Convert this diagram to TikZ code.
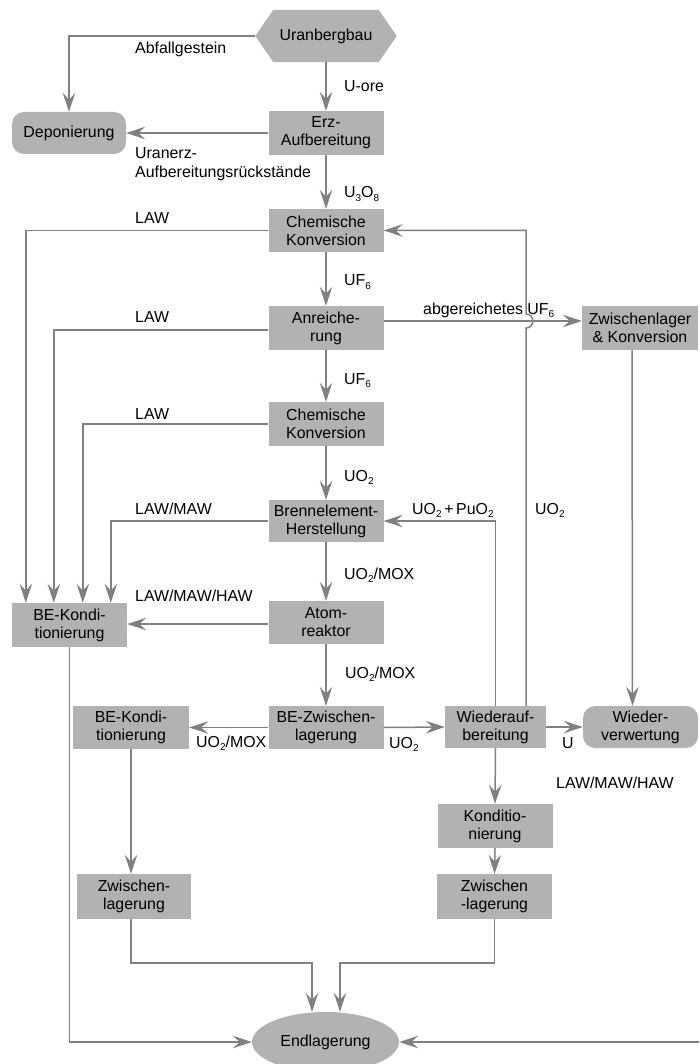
\documentclass[tikz,border=0pt]{standalone}
\usepackage{fontspec}
\setmainfont{Liberation Sans}
\usetikzlibrary{arrows.meta,shapes.geometric,backgrounds}
\definecolor{boxgray}{RGB}{178,178,178}
\definecolor{linegray}{RGB}{128,128,128}
\newcommand{\lowsub}[1]{\raisebox{-0.4ex}{\fontsize{10}{10}\selectfont #1}}
\begin{document}
\begin{tikzpicture}[x=1pt,y=-1pt,
  every node/.style={font=\fontsize{15.9}{18}\selectfont, inner sep=0pt},
  box/.style={fill=boxgray, align=center, minimum width=115pt, minimum height=44pt},
  rbox/.style={box, rounded corners=12pt},
  lbl/.style={anchor=base west},
  arr/.style={draw=linegray, line width=1.5pt, -{Stealth[length=19pt,width=12.5pt,inset=7pt]}},
  ln/.style={draw=linegray, line width=1.5pt}]
\useasboundingbox (0,0) rectangle (699,1064);

% nodes
\node[minimum width=141pt, minimum height=52pt] (ub) at (326,36) {Uranbergbau};
\begin{scope}[on background layer]
  \fill[boxgray] (ub.west) -- ([xshift=18pt]ub.north west) -- ([xshift=-18pt]ub.north east)
    -- (ub.east) -- ([xshift=-18pt]ub.south east) -- ([xshift=18pt]ub.south west) -- cycle;
\end{scope}
\node[rbox, minimum width=114pt, minimum height=42pt] (dep) at (69,133) {Deponierung};
\node[box] (erz) at (326,133) {Erz-\\Aufbereitung};
\node[box, minimum height=43pt] (ck1) at (326,230.5) {Chemische\\Konversion};
\node[box] (anr) at (326,328) {Anreiche-\\rung};
\node[box] (ck2) at (326,424) {Chemische\\Konversion};
\node[box, minimum height=42pt] (beh) at (326,521) {Brennelement-\\Herstellung};
\node[box, minimum height=43pt] (atom) at (326,622.5) {Atom-\\reaktor};
\node[box] (bek1) at (69.5,625) {BE-Kondi-\\tionierung};
\node[box, minimum height=43pt] (bez) at (326,727.5) {BE-Zwischen-\\lagerung};
\node[box, minimum height=43pt, minimum width=116pt] (bek2) at (131,727.5) {BE-Kondi-\\tionierung};
\node[box, minimum height=45pt, minimum width=114pt] (zl1) at (134,896.5) {Zwischen-\\lagerung};
\node[box, minimum width=116pt] (zlk) at (640,328) {Zwischenlager\\\& Konversion};
\node[box, minimum width=101pt, minimum height=42pt] (wa) at (495.5,727) {Wiederauf-\\bereitung};
\node[rbox, minimum height=42pt] (wv) at (640.5,727) {Wieder-\\verwertung};
\node[box] (kond) at (495,826) {Konditio-\\nierung};
\node[box, minimum height=45pt] (zl2) at (494.5,896.5) {Zwischen\\-lagerung};
\node[ellipse, fill=boxgray, minimum width=147pt, minimum height=60pt] (end) at (325.5,1042) {Endlagerung};

% helper coordinates
\coordinate (h1) at (526,328);
\coordinate (h2) at (526,314);
\coordinate (m1) at (312,963);
\coordinate (m2) at (340,963);
\coordinate (rin) at (699,1042);

% main column
\draw[arr] (ub.south) -- (erz.north);
\draw[arr] (erz.south) -- (ck1.north);
\draw[arr] (ck1.south) -- (anr.north);
\draw[arr] (anr.south) -- (ck2.north);
\draw[arr] (ck2.south) -- (beh.north);
\draw[arr] (beh.south) -- (atom.north);
\draw[arr] (atom.south) -- (bez.north);

% Deponierung
\draw[arr] (ub.west) -| (dep.north);
\draw[arr] (erz.west) -- (dep.east);

% waste lines to BE-Konditionierung
\draw[arr] (ck1.west) -| ([xshift=14pt]bek1.north west);
\draw[arr] ([yshift=-2pt]anr.west) -| ([xshift=42pt]bek1.north west);
\draw[arr] (ck2.west) -| ([xshift=71pt]bek1.north west);
\draw[arr] (beh.west) -| ([xshift=99pt]bek1.north west);
\draw[arr] ([yshift=-1.5pt]atom.west) -- ([yshift=-1.5pt]atom.west -| bek1.east);

% enrichment tails
\draw[arr] ([yshift=7pt]anr.east) -- ([yshift=7pt]zlk.west);
\draw[arr] ([xshift=-8pt]zlk.south) -- ([xshift=-8pt]wv.north);

% BE-Zwischenlagerung
\draw[arr] (bez.west) -- (bek2.east);
\draw[arr] (bez.east) -- (wa.west);
\draw[arr] (wa.east) -- (wv.west);

% reprocessing returns
\draw[arr] (wa.north) |- (beh.east);
\draw[arr] (wa.north -| h1) -- (h1) .. controls (535,328) and (535,314) .. (h2) |- (ck1.east);

% right branch
\draw[arr] (wa.south) -- (kond.north);
\draw[arr] (kond.south) -- (zl2.north);

% left branch
\draw[arr] (bek2.south) -- (bek2.south |- zl1.north);

% to Endlagerung
\draw[arr] (zl1.south -| bek2.south) |- (m1) -- (m1 |- end.north);
\draw[arr] (zl2.south) |- (m2) -- (m2 |- end.north);
\draw[arr] (bek1.south) |- (end.west);
\draw[arr] (rin) -- (end.east);

% labels
\node[lbl] at (135,54) {Abfallgestein};
\node[lbl] at (344,92) {U-ore};
\node[anchor=west, align=left, font=\fontsize{15.9}{19}\selectfont] at (135,164.6) {Uranerz-\\Aufbereitungsrückstände};
\node[lbl] at (344,198) {U\lowsub{3}O\lowsub{8}};
\node[lbl] at (135,224) {LAW};
\node[lbl] at (344,286) {UF\lowsub{6}};
\node[lbl] at (135,322) {LAW};
\node[lbl] at (423,314) {abgereichetes UF\lowsub{6}};
\node[lbl] at (344,384) {UF\lowsub{6}};
\node[lbl] at (135,419) {LAW};
\node[lbl] at (344,481) {UO\lowsub{2}};
\node[lbl] at (135,514) {LAW/MAW};
\node[lbl] at (412,514) {UO\lowsub{2}\,+\,PuO\lowsub{2}};
\node[lbl] at (535,514) {UO\lowsub{2}};
\node[lbl] at (344,579) {UO\lowsub{2}/MOX};
\node[lbl] at (135,601) {LAW/MAW/HAW};
\node[lbl] at (345,678) {UO\lowsub{2}/MOX};
\node[lbl] at (196,747) {UO\lowsub{2}/MOX};
\node[lbl] at (389,748) {UO\lowsub{2}};
\node[lbl] at (562,748) {U};
\node[lbl] at (556,788) {LAW/MAW/HAW};
\end{tikzpicture}
\end{document}
